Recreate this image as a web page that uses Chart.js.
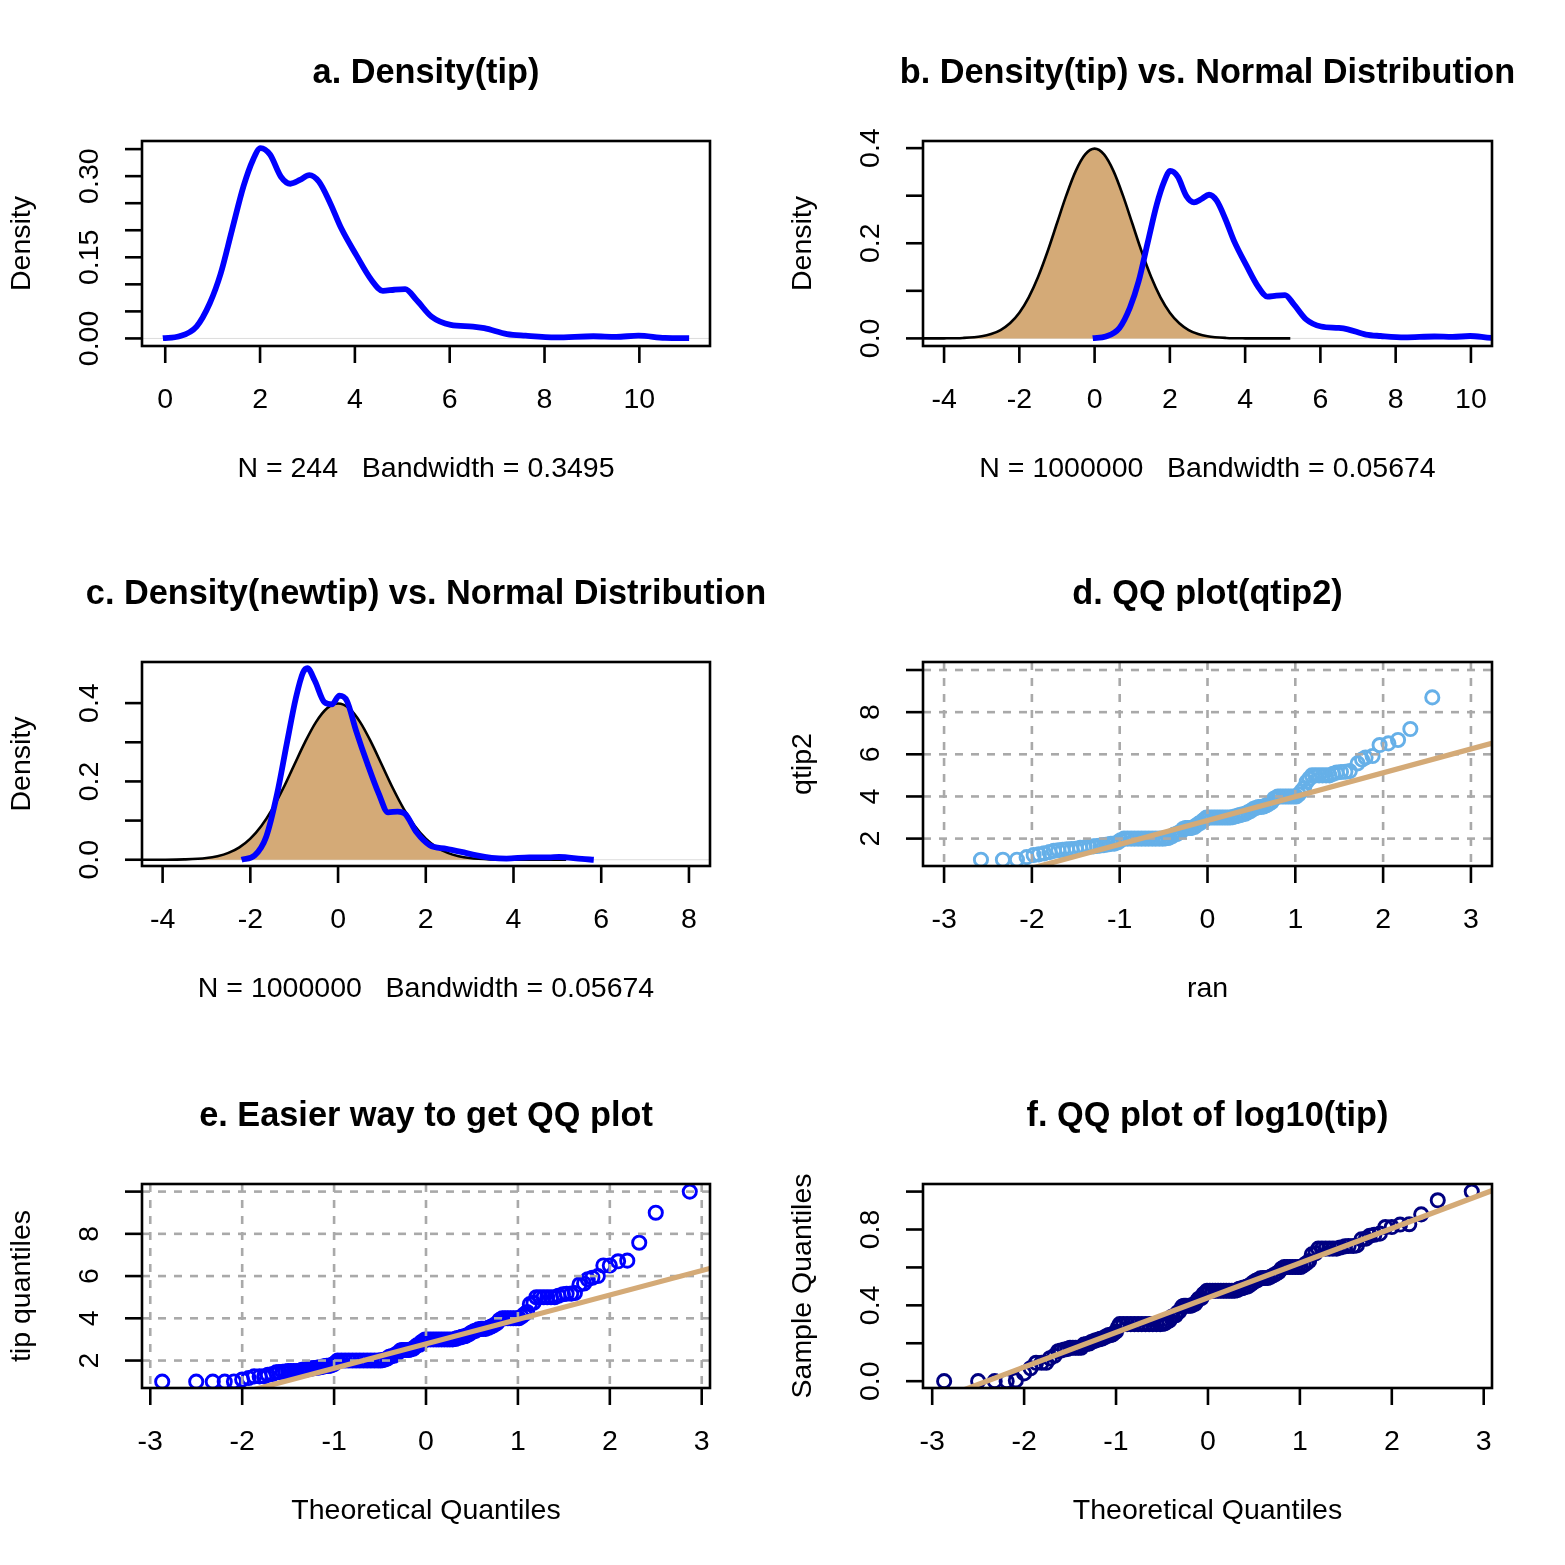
<!DOCTYPE html>
<html>
<head>
<meta charset="utf-8">
<script src="https://cdn.jsdelivr.net/npm/chart.js@4.4.1/dist/chart.umd.min.js"></script>
<style>
  html, body { margin: 0; padding: 0; background: #fff; }
  #page { position: relative; width: 1565px; height: 1565px; background: #fff; }
  canvas { position: absolute; }
</style>
</head>
<body>
<div id="page">
  <canvas id="pa" width="782" height="522" style="left:0px;top:0px"></canvas>
  <canvas id="pb" width="782" height="522" style="left:781px;top:0px"></canvas>
  <canvas id="pc" width="782" height="522" style="left:0px;top:521px"></canvas>
  <canvas id="pd" width="782" height="522" style="left:781px;top:521px"></canvas>
  <canvas id="pe" width="782" height="522" style="left:0px;top:1043px"></canvas>
  <canvas id="pf" width="782" height="522" style="left:781px;top:1043px"></canvas>
</div>
<script>
// density of tip (panels a and b)
const tipDensX = [-0.05, 0.3, 0.66, 0.94, 1.17, 1.41, 1.65, 1.85, 2.01, 2.21, 2.44, 2.64, 2.84, 3.04, 3.24, 3.48, 3.71, 4.03, 4.35, 4.59, 4.83, 5.06, 5.30, 5.62, 6.02, 6.49, 6.73, 7.21, 7.60, 8.24, 9.03, 9.51, 9.98, 10.54, 11.05];
const tipDensY = [0.0005, 0.004, 0.022, 0.065, 0.120, 0.201, 0.281, 0.330, 0.352, 0.340, 0.299, 0.286, 0.293, 0.302, 0.290, 0.250, 0.204, 0.154, 0.108, 0.088, 0.090, 0.091, 0.071, 0.040, 0.025, 0.022, 0.019, 0.008, 0.005, 0.002, 0.004, 0.003, 0.005, 0.001, 0.0005];

// normal distribution density (panels b and c)
const normX = [-5, -4.5, -4, -3.5, -3, -2.75, -2.5, -2.25, -2, -1.75, -1.5, -1.25, -1, -0.75, -0.5, -0.25, 0, 0.25, 0.5, 0.75, 1, 1.25, 1.5, 1.75, 2, 2.25, 2.5, 2.75, 3, 3.5, 4, 4.5, 5.2];
const normY = [0, 0, 0.0001, 0.0009, 0.0044, 0.0091, 0.0175, 0.0317, 0.054, 0.0863, 0.1295, 0.1826, 0.242, 0.3011, 0.3521, 0.3867, 0.3989, 0.3867, 0.3521, 0.3011, 0.242, 0.1826, 0.1295, 0.0863, 0.054, 0.0317, 0.0175, 0.0091, 0.0044, 0.0009, 0.0001, 0, 0];

// density of newtip (panel c)
const newDensX = [-2.2, -1.9, -1.64, -1.39, -1.17, -0.96, -0.8, -0.7, -0.53, -0.31, -0.14, 0.03, 0.2, 0.41, 0.67, 0.93, 1.14, 1.36, 1.53, 1.79, 2.09, 2.47, 2.81, 3.16, 3.5, 3.84, 4.36, 4.8, 5.04, 5.56, 5.83];
const newDensY = [0, 0.011, 0.058, 0.168, 0.296, 0.414, 0.478, 0.489, 0.457, 0.402, 0.397, 0.419, 0.406, 0.33, 0.245, 0.168, 0.121, 0.123, 0.117, 0.07, 0.037, 0.028, 0.02, 0.011, 0.005, 0.003, 0.006, 0.006, 0.007, 0.002, 0];

// panel d: ran vs qtip2
const ranX = [-2.58, -2.33, -2.17, -2.06, -1.98, -1.92, -1.86, -1.80, -1.75, -1.70,
  -1.65, -1.60, -1.55, -1.50, -1.45, -1.40, -1.35, -1.30, -1.26, -1.22,
  -1.18, -1.14, -1.10, -1.06, -1.02, -0.99,
  -0.95, -0.91, -0.87, -0.83, -0.79, -0.75, -0.71, -0.67, -0.63, -0.59, -0.55, -0.51,
  -0.48, -0.45, -0.43, -0.40, -0.38, -0.35, -0.33, -0.30, -0.28, -0.25, -0.23, -0.20, -0.18, -0.15, -0.13, -0.10, -0.08, -0.05, -0.03,
  -0.01, 0.02, 0.05, 0.08, 0.11, 0.14, 0.17, 0.20, 0.23, 0.26,
  0.29, 0.32, 0.35, 0.37, 0.40, 0.43, 0.46, 0.49, 0.52, 0.55, 0.58, 0.61, 0.64, 0.67, 0.70, 0.73, 0.76,
  0.80, 0.83, 0.86, 0.89, 0.92, 0.95, 0.98, 1.01,
  1.04, 1.07, 1.10, 1.13, 1.16,
  1.19, 1.23, 1.27, 1.31, 1.35, 1.39,
  1.43, 1.47, 1.52, 1.57, 1.62, 1.71, 1.76, 1.80, 1.88, 1.96, 2.06, 2.17, 2.31, 2.56];
const qtip2Y = [1.00, 1.00, 1.00, 1.12, 1.22, 1.25, 1.30, 1.36, 1.42, 1.45,
  1.47, 1.49, 1.50, 1.52, 1.56, 1.58, 1.61, 1.63, 1.65, 1.67,
  1.69, 1.72, 1.75, 1.76, 1.82, 1.92,
  2, 2, 2, 2, 2, 2, 2, 2, 2, 2, 2, 2,
  2.01, 2.03, 2.06, 2.12, 2.19, 2.22, 2.28, 2.33, 2.45, 2.50, 2.50, 2.50, 2.51, 2.55, 2.62, 2.71, 2.75, 2.86, 2.92,
  3, 3, 3, 3, 3, 3, 3, 3, 3, 3,
  3.02, 3.06, 3.09, 3.12, 3.15, 3.18, 3.25, 3.31, 3.40, 3.45, 3.50, 3.50, 3.52, 3.58, 3.65, 3.74, 3.90,
  4, 4, 4, 4, 4, 4, 4, 4,
  4.10, 4.25, 4.40, 4.70, 4.85,
  5, 5, 5, 5, 5, 5,
  5.07, 5.13, 5.16, 5.17, 5.20, 5.57, 5.75, 5.85, 5.92, 6.44, 6.52, 6.68, 7.20, 8.70];

// panels e and f: theoretical quantiles, tip and log10(tip)
const theoQ = [-2.87, -2.50, -2.32, -2.19, -2.09, -2.00, -1.93, -1.87, -1.81, -1.76,
  -1.72, -1.67, -1.63, -1.60, -1.56, -1.53, -1.50, -1.47, -1.44, -1.41,
  -1.38, -1.35, -1.32, -1.29, -1.27, -1.24, -1.22, -1.19, -1.17, -1.15,
  -1.12, -1.10, -1.08, -1.06, -1.04, -1.02, -1.00, -0.98,
  -0.96, -0.92, -0.88, -0.84, -0.80, -0.76, -0.72, -0.68, -0.64, -0.60, -0.56, -0.52,
  -0.49, -0.47, -0.45, -0.42, -0.40, -0.38, -0.35, -0.33, -0.31, -0.28, -0.26, -0.24, -0.21, -0.19, -0.17, -0.14, -0.12, -0.10, -0.07, -0.05, -0.03,
  -0.01, 0.02, 0.05, 0.08, 0.11, 0.14, 0.17, 0.20, 0.23, 0.26, 0.29,
  0.32, 0.34, 0.37, 0.39, 0.42, 0.44, 0.47, 0.49, 0.52, 0.54, 0.57, 0.60, 0.62, 0.65, 0.68, 0.71, 0.74, 0.77, 0.80,
  0.83, 0.86, 0.89, 0.92, 0.95, 0.98, 1.01,
  1.04, 1.07, 1.10, 1.13, 1.17,
  1.20, 1.24, 1.28, 1.32, 1.36, 1.40,
  1.44, 1.49, 1.53, 1.58, 1.62, 1.67, 1.72, 1.76, 1.81, 1.87, 1.93, 2.00, 2.09, 2.19, 2.32, 2.50, 2.87];
const tipQ = [1.00, 1.00, 1.00, 1.00, 1.01, 1.10, 1.17, 1.25, 1.25, 1.25,
  1.32, 1.36, 1.44, 1.45, 1.47, 1.48, 1.50, 1.50, 1.50, 1.50,
  1.50, 1.56, 1.57, 1.58, 1.61, 1.63, 1.64, 1.66, 1.67, 1.68,
  1.71, 1.73, 1.75, 1.75, 1.76, 1.80, 1.83, 1.92,
  2, 2, 2, 2, 2, 2, 2, 2, 2, 2, 2, 2,
  2.01, 2.02, 2.05, 2.09, 2.18, 2.20, 2.23, 2.30, 2.34, 2.47, 2.50, 2.50, 2.50, 2.50, 2.52, 2.56, 2.64, 2.72, 2.75, 2.88, 2.92,
  3, 3, 3, 3, 3, 3, 3, 3, 3, 3, 3,
  3.02, 3.07, 3.09, 3.12, 3.15, 3.18, 3.25, 3.31, 3.39, 3.41, 3.48, 3.50, 3.50, 3.50, 3.55, 3.61, 3.68, 3.76, 3.92,
  4, 4, 4, 4, 4, 4, 4,
  4.08, 4.19, 4.30, 4.67, 4.73,
  5, 5, 5, 5, 5, 5,
  5.07, 5.14, 5.16, 5.17, 5.20, 5.60, 5.65, 5.85, 5.92, 6.00, 6.50, 6.50, 6.70, 6.73, 7.58, 9.00, 10.00];
const logTipQ = [0, 0, 0, 0, 0.004, 0.041, 0.068, 0.097, 0.097, 0.097,
  0.121, 0.134, 0.158, 0.161, 0.167, 0.170, 0.176, 0.176, 0.176, 0.176,
  0.176, 0.193, 0.196, 0.199, 0.207, 0.212, 0.215, 0.220, 0.223, 0.225,
  0.233, 0.238, 0.243, 0.243, 0.246, 0.255, 0.262, 0.283,
  0.301, 0.301, 0.301, 0.301, 0.301, 0.301, 0.301, 0.301, 0.301, 0.301, 0.301, 0.301,
  0.303, 0.305, 0.312, 0.320, 0.338, 0.342, 0.348, 0.362, 0.369, 0.393, 0.398, 0.398, 0.398, 0.398, 0.401, 0.408, 0.422, 0.435, 0.439, 0.459, 0.465,
  0.477, 0.477, 0.477, 0.477, 0.477, 0.477, 0.477, 0.477, 0.477, 0.477, 0.477,
  0.480, 0.487, 0.490, 0.494, 0.498, 0.502, 0.512, 0.520, 0.530, 0.533, 0.542, 0.544, 0.544, 0.544, 0.550, 0.558, 0.566, 0.575, 0.593,
  0.602, 0.602, 0.602, 0.602, 0.602, 0.602, 0.602,
  0.611, 0.622, 0.633, 0.669, 0.675,
  0.699, 0.699, 0.699, 0.699, 0.699, 0.699,
  0.705, 0.711, 0.713, 0.713, 0.716, 0.748, 0.752, 0.767, 0.772, 0.778, 0.813, 0.813, 0.826, 0.828, 0.880, 0.954, 1.000];

// qq reference lines (ends beyond the plot, clipped)
const lineX = [-3.5, 3.5];
const qqLineD = [-1.10, 6.82];
const qqLineE = [-1.26, 6.84];
const qqLineF = [-0.20, 1.08];

// axis ticks and their labels
const ticksA_x = [0, 2, 4, 6, 8, 10];
const ticksA_y = [0, 0.05, 0.10, 0.15, 0.20, 0.25, 0.30, 0.35];
const labelsA_y = ['0.00', '', '', '0.15', '', '', '0.30', ''];
const ticksB_x = [-4, -2, 0, 2, 4, 6, 8, 10];
const ticksC_x = [-4, -2, 0, 2, 4, 6, 8];
const ticksBC_y = [0, 0.1, 0.2, 0.3, 0.4];
const labelsBC_y = ['0.0', '', '0.2', '', '0.4'];
const ticksQ_x = [-3, -2, -1, 0, 1, 2, 3];
const ticksQ_y = [2, 4, 6, 8, 10];
const labelsQ_y = ['2', '4', '6', '8', ''];
const ticksF_y = [0, 0.2, 0.4, 0.6, 0.8, 1.0];
const labelsF_y = ['0.0', '', '0.4', '', '0.8', ''];

const TAN = '#d4aa77';
const BLUE = '#0000ff';
const SKY = '#66b0e8';
const NAVY = '#000080';
const FONT = '"Liberation Sans", Arial, Helvetica, sans-serif';

const xy = (xs, ys) => xs.map((x, i) => ({ x: x, y: ys[i] }));

function densityLine(xs, ys) {
  return { data: xy(xs, ys), showLine: true, borderColor: BLUE, borderWidth: 5.8,
    pointRadius: 0, cubicInterpolationMode: 'monotone', fill: false, order: 0 };
}
function normalFill() {
  return { data: xy(normX, normY), showLine: true, borderColor: '#000', borderWidth: 2.6,
    backgroundColor: TAN, fill: 'origin', pointRadius: 0, cubicInterpolationMode: 'monotone', order: 1 };
}
function qqPoints(xs, ys, col) {
  return { data: xy(xs, ys), showLine: false, pointRadius: 6.6, pointBorderWidth: 2.9,
    borderColor: col, pointBorderColor: col, pointBackgroundColor: 'rgba(0,0,0,0)', order: 1 };
}
function qqLine(ys) {
  return { data: xy(lineX, ys), showLine: true, borderColor: TAN, borderWidth: 5.2, pointRadius: 0, order: 0 };
}

function text(ctx, s, x, y, font, rotate) {
  ctx.save();
  ctx.translate(x, y);
  if (rotate) ctx.rotate(-Math.PI / 2);
  ctx.font = font;
  ctx.fillStyle = '#000';
  ctx.textAlign = 'center';
  ctx.textBaseline = 'middle';
  ctx.fillText(s, 0, 0);
  ctx.restore();
}

// draws base-R style box, ticks, labels and the dotted grid
const rStyle = {
  id: 'rStyle',
  beforeDatasetsDraw(chart, args, o) {
    if (!o.zeroLine) return;
    const a = chart.chartArea, ctx = chart.ctx;
    const py = chart.scales.y.getPixelForValue(0);
    ctx.save();
    ctx.strokeStyle = '#dcdcdc';
    ctx.lineWidth = 1;
    ctx.beginPath(); ctx.moveTo(a.left, py); ctx.lineTo(a.right, py); ctx.stroke();
    ctx.restore();
  },
  afterDatasetDraw(chart, args, o) {
    if (!o.grid || args.index !== 0) return;
    const a = chart.chartArea, ctx = chart.ctx;
    ctx.save();
    ctx.strokeStyle = '#a9a9a9';
    ctx.lineWidth = 2.6;
    ctx.setLineDash([8, 8]);
    o.xTicks.forEach(v => {
      const px = chart.scales.x.getPixelForValue(v);
      ctx.beginPath(); ctx.moveTo(px, a.top); ctx.lineTo(px, a.bottom); ctx.stroke();
    });
    o.yTicks.forEach(v => {
      const py = chart.scales.y.getPixelForValue(v);
      ctx.beginPath(); ctx.moveTo(a.left, py); ctx.lineTo(a.right, py); ctx.stroke();
    });
    ctx.restore();
  },
  afterDraw(chart, args, o) {
    const a = chart.chartArea, ctx = chart.ctx;
    const sx = chart.scales.x, sy = chart.scales.y;
    const tick = 17;
    ctx.save();
    ctx.strokeStyle = '#000';
    ctx.lineWidth = 2.6;
    ctx.strokeRect(a.left, a.top, a.right - a.left, a.bottom - a.top);
    ctx.lineCap = 'butt';
    o.xTicks.forEach(v => {
      const px = sx.getPixelForValue(v);
      ctx.beginPath(); ctx.moveTo(px, a.bottom); ctx.lineTo(px, a.bottom + tick); ctx.stroke();
      text(ctx, String(v), px, a.bottom + 54, '28.5px ' + FONT, false);
    });
    o.yTicks.forEach((v, i) => {
      const py = sy.getPixelForValue(v);
      ctx.beginPath(); ctx.moveTo(a.left, py); ctx.lineTo(a.left - tick, py); ctx.stroke();
      if (o.yLabels[i]) text(ctx, o.yLabels[i], a.left - 52, py, '28.5px ' + FONT, true);
    });
    ctx.restore();
    const cx = (a.left + a.right) / 2, cy = (a.top + a.bottom) / 2;
    text(ctx, o.title, cx, a.top - 67, 'bold 34.3px ' + FONT, false);
    text(ctx, o.xTitle, cx, a.bottom + 123, '28.5px ' + FONT, false);
    text(ctx, o.yTitle, a.left - 120, cy, '28.5px ' + FONT, true);
  }
};

function makePanel(id, p) {
  new Chart(document.getElementById(id), {
    type: 'scatter',
    data: { datasets: p.datasets },
    plugins: [rStyle],
    options: {
      responsive: false,
      animation: false,
      events: [],
      layout: { padding: p.pad },
      scales: {
        x: { type: 'linear', min: p.x[0], max: p.x[1], display: false },
        y: { type: 'linear', min: p.y[0], max: p.y[1], display: false }
      },
      plugins: {
        legend: { display: false },
        tooltip: { enabled: false },
        rStyle: {
          title: p.title, xTitle: p.xTitle, yTitle: p.yTitle,
          xTicks: p.xTicks, yTicks: p.yTicks, yLabels: p.yLabels,
          zeroLine: !!p.zeroLine, grid: !!p.grid
        }
      }
    }
  });
}

makePanel('pa', {
  pad: { left: 142, right: 72, top: 141, bottom: 176 },
  x: [-0.49, 11.49], y: [-0.014, 0.365],
  xTicks: ticksA_x, yTicks: ticksA_y, yLabels: labelsA_y,
  title: 'a. Density(tip)', xTitle: 'N = 244   Bandwidth = 0.3495', yTitle: 'Density',
  zeroLine: true,
  datasets: [densityLine(tipDensX, tipDensY)]
});

makePanel('pb', {
  pad: { left: 142, right: 71, top: 141, bottom: 176 },
  x: [-4.56, 10.56], y: [-0.016, 0.415],
  xTicks: ticksB_x, yTicks: ticksBC_y, yLabels: labelsBC_y,
  title: 'b. Density(tip) vs. Normal Distribution', xTitle: 'N = 1000000   Bandwidth = 0.05674', yTitle: 'Density',
  zeroLine: true,
  datasets: [densityLine(tipDensX, tipDensY), normalFill()]
});

makePanel('pc', {
  pad: { left: 142, right: 72, top: 141, bottom: 177 },
  x: [-4.47, 8.48], y: [-0.016, 0.505],
  xTicks: ticksC_x, yTicks: ticksBC_y, yLabels: labelsBC_y,
  title: 'c. Density(newtip) vs. Normal Distribution', xTitle: 'N = 1000000   Bandwidth = 0.05674', yTitle: 'Density',
  zeroLine: true,
  datasets: [densityLine(newDensX, newDensY), normalFill()]
});

makePanel('pd', {
  pad: { left: 142, right: 71, top: 141, bottom: 177 },
  x: [-3.24, 3.24], y: [0.7, 10.38],
  xTicks: ticksQ_x, yTicks: ticksQ_y, yLabels: labelsQ_y,
  title: 'd. QQ plot(qtip2)', xTitle: 'ran', yTitle: 'qtip2',
  grid: true,
  datasets: [qqPoints(ranX, qtip2Y, SKY), qqLine(qqLineD)]
});

makePanel('pe', {
  pad: { left: 142, right: 72, top: 141, bottom: 177 },
  x: [-3.09, 3.09], y: [0.7, 10.36],
  xTicks: ticksQ_x, yTicks: ticksQ_y, yLabels: labelsQ_y,
  title: 'e. Easier way to get QQ plot', xTitle: 'Theoretical Quantiles', yTitle: 'tip quantiles',
  grid: true,
  datasets: [qqPoints(theoQ, tipQ, BLUE), qqLine(qqLineE)]
});

makePanel('pf', {
  pad: { left: 142, right: 71, top: 141, bottom: 177 },
  x: [-3.1, 3.09], y: [-0.036, 1.04],
  xTicks: ticksQ_x, yTicks: ticksF_y, yLabels: labelsF_y,
  title: 'f. QQ plot of log10(tip)', xTitle: 'Theoretical Quantiles', yTitle: 'Sample Quantiles',
  datasets: [qqPoints(theoQ, logTipQ, NAVY), qqLine(qqLineF)]
});
</script>
</body>
</html>
